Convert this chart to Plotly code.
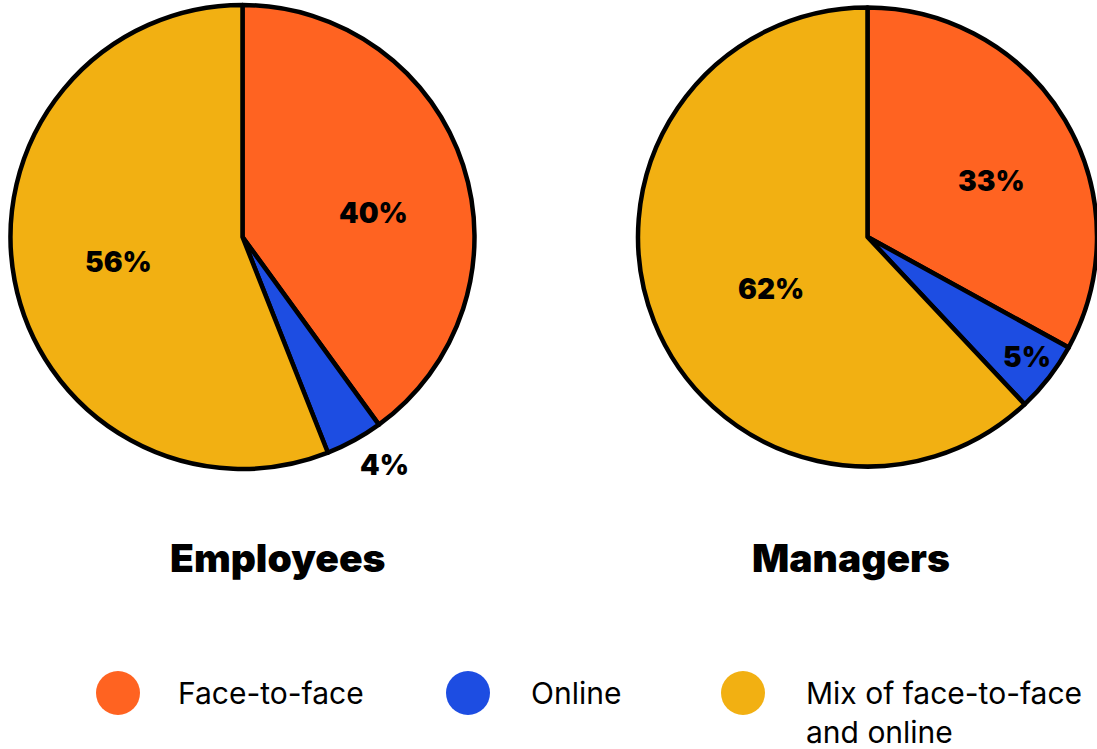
import plotly.graph_objects as go

categories = ["Face-to-face", "Online", "Mix of face-to-face and online"]
legend_labels = ["Face-to-face", "Online", "Mix of face-to-face<br>and online"]
employees = [40, 4, 56]
managers = [33, 5, 62]
groups = ["Employees", "Managers"]
colors = ["#FF6321", "#1D4DE2", "#F2B012"]

W, H = 1097, 749
def px(x): return x / W
def py(y): return 1 - y / H

fig = go.Figure()
pie_domains = [
    dict(x=[px(10), px(475)], y=[py(469), py(5)]),
    dict(x=[px(638), 1.0], y=[py(469), py(5)]),
]
for vals, name, dom in zip([employees, managers], groups, pie_domains):
    fig.add_trace(go.Pie(
        labels=categories, values=vals, name=name,
        sort=False, direction="clockwise", rotation=0,
        marker=dict(colors=colors, line=dict(color="black", width=4.5)),
        textinfo="none", hoverinfo="label+percent",
        domain=dom, showlegend=False,
    ))

bold = dict(family="Inter, Lato, sans-serif", size=28, color="black", weight=900)
# percentage labels
label_pos = [
    [(373, 213), (384, 465), (118, 262)],
    [(991, 181), (1027, 357), (771, 289)],
]
annotations = []
for vals, poss in zip([employees, managers], label_pos):
    for v, (x, y) in zip(vals, poss):
        annotations.append(dict(x=px(x), y=py(y), xref="paper", yref="paper",
                                text=f"{v}%", showarrow=False, font=bold,
                                xanchor="center", yanchor="middle"))
# group titles
for g, x in zip(groups, [278, 851]):
    annotations.append(dict(x=px(x), y=py(557), xref="paper", yref="paper",
                            text=g, showarrow=False,
                            font=dict(family="Inter, Lato, sans-serif", size=39, color="black", weight=900),
                            xanchor="center", yanchor="middle"))
# legend
shapes = []
leg_circ_x = [118, 468, 743]
leg_text_x = [176, 529, 804]
for lab, c, cx, tx in zip(legend_labels, colors, leg_circ_x, leg_text_x):
    shapes.append(dict(type="circle", xref="paper", yref="paper",
                       xsizemode="pixel", ysizemode="pixel",
                       xanchor=px(cx), yanchor=py(693),
                       x0=-22, x1=22, y0=-22, y1=22,
                       fillcolor=c, line=dict(width=0)))
    annotations.append(dict(x=px(tx), y=py(673), xref="paper", yref="paper",
                            text=lab, showarrow=False, align="left",
                            font=dict(family="Inter, sans-serif", size=30, color="black"),
                            xanchor="left", yanchor="top"))

fig.update_layout(
    width=W, height=H, margin=dict(l=0, r=0, t=0, b=0),
    paper_bgcolor="white", plot_bgcolor="white",
    annotations=annotations, shapes=shapes,
)
fig.write_html("out.html", config={"displayModeBar": False},
               post_script="document.body.style.margin='0';document.body.style.overflow='hidden';")
